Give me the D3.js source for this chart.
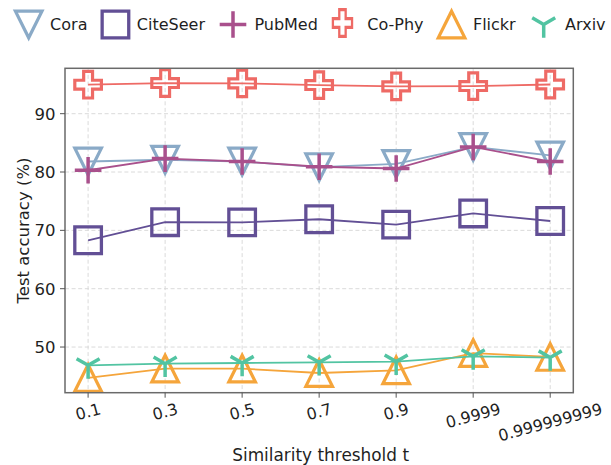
<!DOCTYPE html>
<html>
<head>
<meta charset="utf-8">
<script src="https://cdn.jsdelivr.net/npm/d3@7"></script>
<style>
  html, body { margin: 0; padding: 0; background: #fff; }
  svg { display: block; font-family: "DejaVu Sans", sans-serif; }
</style>
</head>
<body>
<svg id="chart" width="611" height="465"></svg>
<script>
// ---- data ----
const categories = ["0.1", "0.3", "0.5", "0.7", "0.9", "0.9999", "0.999999999"];
const seriesNames = ["Cora", "CiteSeer", "PubMed", "Co-Phy", "Flickr", "Arxiv"];
const cora     = [81.8, 82.1, 81.8, 80.85, 81.4, 84.3, 82.85];
const citeseer = [68.3, 71.4, 71.37, 71.9, 70.98, 72.9, 71.6];
const pubmed   = [80.3, 82.3, 81.8, 80.9, 80.6, 84.3, 81.8];
const cophy    = [94.97, 95.25, 95.19, 94.9, 94.68, 94.73, 95.0];
const flickr   = [44.7, 46.3, 46.3, 45.55, 46.0, 48.97, 48.3];
const arxiv    = [46.86, 47.15, 47.26, 47.38, 47.5, 48.4, 48.2];
const yTicks = [50, 60, 70, 80, 90];
const xLabel = "Similarity threshold t";
const yLabel = "Test accuracy (%)";

// ---- styles ----
const seriesValues = [cora, citeseer, pubmed, cophy, flickr, arxiv];
const colors = ["#8aaac7", "#624f95", "#a9508c", "#ee6a65", "#f5a53b", "#52c4a2"];
const markers = ["v", "s", "+", "P", "^", "1"];

const svg = d3.select("#chart");
const L = 65, R = 573.3, T = 68.3, B = 392.7;

const x = d3.scalePoint().domain(categories).range([L, R]).padding(0.3);
const allVals = seriesValues.flat();
const mn = d3.min(allVals), mx = d3.max(allVals), pad = (mx - mn) * 0.05;
const y = d3.scaleLinear().domain([mn - pad, mx + pad]).range([B, T]);

// grid
const grid = svg.append("g");
grid.selectAll("line.gx").data(categories).join("line")
  .attr("x1", d => x(d)).attr("x2", d => x(d)).attr("y1", T).attr("y2", B)
  .attr("stroke", "#d6d6d6").attr("stroke-width", 0.9).attr("stroke-dasharray", "4,2.6");
grid.selectAll("line.gy").data(yTicks).join("line")
  .attr("x1", L).attr("x2", R).attr("y1", d => y(d)).attr("y2", d => y(d))
  .attr("stroke", "#d6d6d6").attr("stroke-width", 0.9).attr("stroke-dasharray", "4,2.6");

// marker paths
function markerPath(type, s) {
  const a = s / 3;
  switch (type) {
    case "v": return `M${-s},${-s}L${s},${-s}L0,${s}Z`;
    case "^": return `M0,${-s}L${s},${s}L${-s},${s}Z`;
    case "s": return `M${-s},${-s}H${s}V${s}H${-s}Z`;
    case "+": return `M${-s},0H${s}M0,${-s}V${s}`;
    case "P": return `M${-a},${-s}H${a}V${-a}H${s}V${a}H${a}V${s}H${-a}V${a}H${-s}V${-a}H${-a}Z`;
    case "1": return `M0,0V${s}M0,0L${-0.866 * s},${-0.5 * s}M0,0L${0.866 * s},${-0.5 * s}`;
  }
}
const strokeW = { v: 3.2, s: 3.3, "+": 3.5, P: 3.2, "^": 3.2, "1": 3.5 };

const clipId = "plotclip";
svg.append("clipPath").attr("id", clipId).append("rect")
  .attr("x", L).attr("y", T).attr("width", R - L).attr("height", B - T);

const plot = svg.append("g").attr("clip-path", `url(#${clipId})`);
const line = d3.line().x((d, i) => x(categories[i])).y(d => y(d));

seriesValues.forEach((vals, si) => {
  const g = plot.append("g");
  g.append("path").datum(vals).attr("d", line)
    .attr("fill", "none").attr("stroke", colors[si]).attr("stroke-width", 1.8);
  g.selectAll("path.m").data(vals).join("path")
    .attr("class", "m")
    .attr("transform", (d, i) => `translate(${x(categories[i])},${y(d)})`)
    .attr("d", markerPath(markers[si], 13.3))
    .attr("fill", "none").attr("stroke", colors[si])
    .attr("stroke-width", strokeW[markers[si]])
    .attr("stroke-linejoin", "miter").attr("stroke-linecap", "butt");
});

// spines
svg.append("rect").attr("x", L).attr("y", T).attr("width", R - L).attr("height", B - T)
  .attr("fill", "none").attr("stroke", "#6a6a6a").attr("stroke-width", 1.5);

// y axis ticks
const yAxisG = svg.append("g");
yAxisG.selectAll("line").data(yTicks).join("line")
  .attr("x1", L - 5).attr("x2", L).attr("y1", d => y(d)).attr("y2", d => y(d))
  .attr("stroke", "#555").attr("stroke-width", 1);
yAxisG.selectAll("text").data(yTicks).join("text")
  .attr("x", L - 9.5).attr("y", d => y(d)).attr("dy", "0.36em")
  .attr("text-anchor", "end").attr("font-size", 16.5).attr("fill", "#1f1f1f")
  .text(d => d);

// x axis ticks
const xAxisG = svg.append("g");
xAxisG.selectAll("line").data(categories).join("line")
  .attr("x1", d => x(d)).attr("x2", d => x(d)).attr("y1", B).attr("y2", B + 5)
  .attr("stroke", "#555").attr("stroke-width", 1);
const fs = 16, ang = 15 * Math.PI / 180, hText = 1.164 * fs, topY = B + 6.7;
categories.forEach(c => {
  const g = xAxisG.append("g");
  const t = g.append("text").attr("text-anchor", "middle").attr("font-size", fs)
    .attr("fill", "#1f1f1f").text(c);
  const w = t.node().getComputedTextLength();
  const H = w * Math.sin(ang) + hText * Math.cos(ang);
  const cy = topY + H / 2;
  t.attr("y", 0.346 * fs);
  g.attr("transform", `translate(${x(c)},${cy}) rotate(-15)`);
});

// axis labels
svg.append("text").attr("x", (L + R) / 2 + 1.5).attr("y", 461)
  .attr("text-anchor", "middle").attr("font-size", 16.9).attr("fill", "#1f1f1f").text(xLabel);
svg.append("text").attr("transform", `translate(23.3,${(T + B) / 2}) rotate(-90)`)
  .attr("dy", "0.36em")
  .attr("text-anchor", "middle").attr("font-size", 16.5).attr("fill", "#1f1f1f").text(yLabel);

// legend
const leg = svg.append("g");
let cx = 28.7;
const ly = 24.5;
seriesNames.forEach((name, si) => {
  const m = markers[si];
  const mg = leg.append("path")
    .attr("d", markerPath(m, 13.3))
    .attr("fill", "none").attr("stroke", colors[si])
    .attr("stroke-width", strokeW[m]).attr("stroke-linejoin", "miter");
  if (m === "P") mg.attr("transform", `translate(${cx - 3.4},${ly - 1.5}) scale(0.72,1)`);
  else mg.attr("transform", `translate(${cx},${ly})`);
  const t = leg.append("text").attr("x", cx + 21.4).attr("y", ly + 5.8)
    .attr("font-size", 16).attr("fill", "#1f1f1f").text(name);
  const w = t.node().getComputedTextLength();
  cx = cx + 21.4 + w + 28;
});
</script>
</body>
</html>
